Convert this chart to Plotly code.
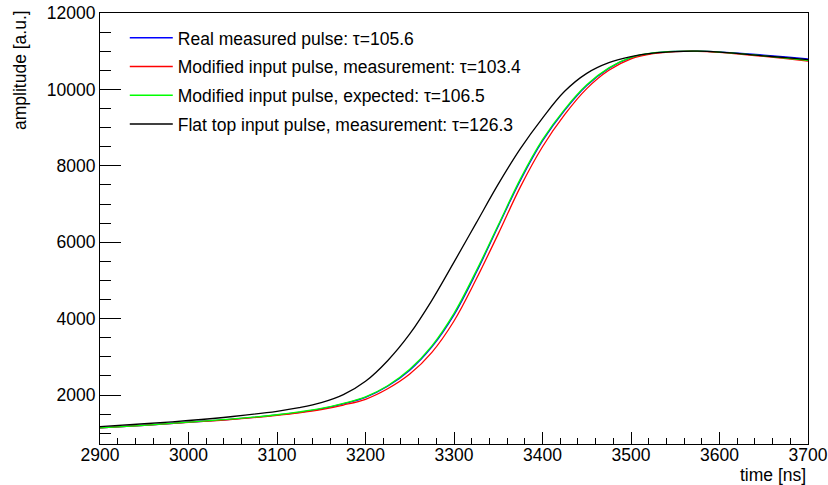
import plotly.graph_objects as go

time_ns = [2900, 2950, 3000, 3050, 3100, 3125, 3150, 3175, 3200, 3225, 3250, 3275, 3300,
           3325, 3350, 3375, 3400, 3425, 3450, 3475, 3500, 3525, 3550, 3575, 3600,
           3625, 3650, 3675, 3700]

real_measured = [1140, 1210, 1290, 1370, 1480, 1550, 1640, 1770, 1940, 2230, 2650, 3260, 4100,
                 5200, 6420, 7620, 8650, 9450, 10100, 10550, 10830, 10950, 10995, 11000, 10980,
                 10940, 10900, 10850, 10800]

modified_measured = [1140, 1205, 1285, 1365, 1470, 1535, 1620, 1740, 1890, 2165, 2550, 3120, 3940,
                     5030, 6220, 7450, 8500, 9340, 10020, 10500, 10800, 10935, 10990, 10998, 10970,
                     10920, 10865, 10805, 10740]

modified_expected = [1140, 1210, 1290, 1375, 1485, 1558, 1650, 1785, 1955, 2245, 2675, 3290, 4140,
                     5245, 6450, 7660, 8685, 9480, 10120, 10565, 10838, 10955, 10995, 11000, 10975,
                     10930, 10880, 10820, 10760]

flat_top = [1175, 1250, 1335, 1440, 1575, 1670, 1800, 2010, 2360, 2900, 3600, 4480, 5480,
            6500, 7520, 8450, 9250, 9950, 10420, 10700, 10860, 10950, 10990, 11000, 10975,
            10930, 10880, 10830, 10780]

series_names = ["Real measured pulse: τ=105.6",
                "Modified input pulse, measurement: τ=103.4",
                "Modified input pulse, expected: τ=106.5",
                "Flat top input pulse, measurement: τ=126.3"]
series_values = [real_measured, modified_measured, modified_expected, flat_top]
series_colors = ["#0000ff", "#ff0000", "#00ff00", "#000000"]

FONT = "Liberation Sans, Arial, Helvetica, sans-serif"
FS = 17.5

fig = go.Figure()
for i, (name, vals, col) in enumerate(zip(series_names, series_values, series_colors)):
    fig.add_trace(go.Scatter(
        x=time_ns, y=vals, mode="lines", name=name,
        line=dict(color=col, width=1.3, shape="spline", smoothing=1.0),
        legendgroup=f"g{i}",
    ))

fig.update_layout(
    width=828, height=485,
    margin=dict(l=100, r=20, t=13, b=41, autoexpand=False),
    paper_bgcolor="white", plot_bgcolor="white",
    font=dict(family=FONT, size=FS, color="black"),
    showlegend=True,
    legend=dict(
        x=0.035, y=0.984, xanchor="left", yanchor="top",
        bgcolor="rgba(0,0,0,0)", borderwidth=0,
        font=dict(family=FONT, size=FS, color="black"),
        tracegroupgap=3, itemwidth=43,
    ),
    xaxis=dict(
        range=[2900, 3700], showgrid=False, zeroline=False, automargin=False,
        showline=True, linecolor="black", linewidth=1, mirror=True,
        ticks="inside", ticklen=12, tickwidth=1, tickcolor="black",
        dtick=100, tick0=2900, ticklabelstandoff=-5,
        minor=dict(ticks="inside", ticklen=6, dtick=20, tickcolor="black", tickwidth=1, showgrid=False),
        tickfont=dict(family=FONT, size=FS),
    ),
    yaxis=dict(
        range=[720, 12000], showgrid=False, zeroline=False, automargin=False,
        showline=True, linecolor="black", linewidth=1, mirror=True,
        ticks="inside", ticklen=21, tickwidth=1, tickcolor="black",
        dtick=2000, tick0=0, tickformat="d",
        minor=dict(ticks="inside", ticklen=11, dtick=500, tickcolor="black", tickwidth=1, showgrid=False),
        tickfont=dict(family=FONT, size=FS),
    ),
    annotations=[
        dict(text="amplitude [a.u.]", xref="paper", yref="paper",
             x=-0.113, y=1.0, xanchor="center", yanchor="top", textangle=-90, yshift=5,
             showarrow=False, font=dict(family=FONT, size=FS)),
        dict(text="time [ns]", xref="paper", yref="paper",
             x=1.0, y=0.0, xanchor="right", yanchor="top", yshift=-19,
             showarrow=False, font=dict(family=FONT, size=FS)),
    ],
)

fig.write_html("out.html")
